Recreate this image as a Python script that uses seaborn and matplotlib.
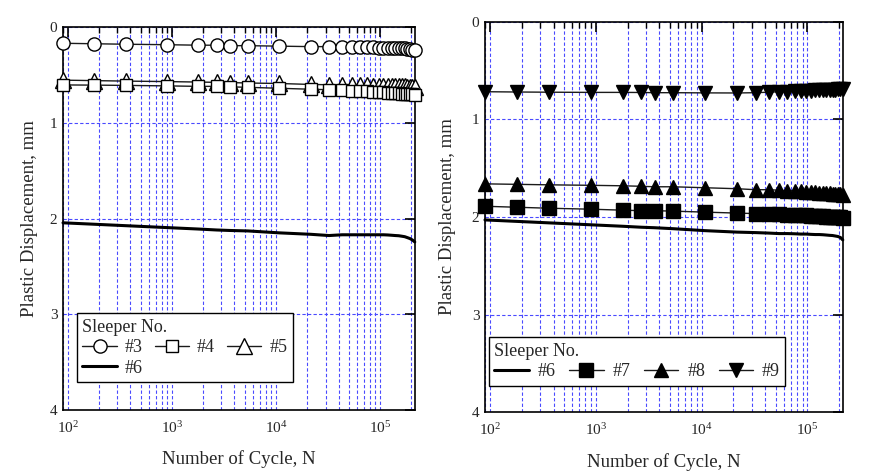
import numpy as np
import pandas as pd
import matplotlib
matplotlib.use("Agg")
import matplotlib.pyplot as plt
import seaborn as sns
from matplotlib.ticker import LogLocator, NullFormatter, FixedLocator

# ---------------- data ----------------
cycles = [90, 180, 360, 900, 1800, 2700, 3600, 5400, 10800, 21600, 32400, 43200,
          54000, 64800, 75600, 86400, 97200, 108000, 118800, 129600, 140400,
          151200, 162000, 172800, 183600, 194400, 205200, 216000]

s3 = [0.17, 0.175, 0.18, 0.185, 0.19, 0.19, 0.195, 0.195, 0.20, 0.205, 0.205, 0.21,
      0.21, 0.21, 0.212, 0.212, 0.215, 0.215, 0.215, 0.218, 0.218, 0.22, 0.22,
      0.222, 0.225, 0.23, 0.235, 0.245]
s4 = [0.605, 0.607, 0.61, 0.615, 0.62, 0.62, 0.625, 0.63, 0.64, 0.65, 0.655, 0.66,
      0.665, 0.67, 0.67, 0.675, 0.68, 0.68, 0.685, 0.69, 0.69, 0.69, 0.695, 0.695,
      0.70, 0.70, 0.70, 0.705]
s5 = [0.555, 0.56, 0.565, 0.57, 0.575, 0.578, 0.58, 0.585, 0.59, 0.60, 0.603, 0.605,
      0.607, 0.61, 0.61, 0.612, 0.613, 0.615, 0.615, 0.617, 0.618, 0.62, 0.62,
      0.62, 0.622, 0.623, 0.625, 0.627]
s6_left = [2.045, 2.06, 2.075, 2.095, 2.11, 2.12, 2.125, 2.13, 2.15, 2.165, 2.178,
           2.17, 2.17, 2.17, 2.17, 2.17, 2.17, 2.17, 2.172, 2.175, 2.178, 2.18,
           2.185, 2.19, 2.20, 2.21, 2.225, 2.245]

s6_right = [2.03, 2.045, 2.06, 2.08, 2.095, 2.105, 2.11, 2.12, 2.14, 2.155, 2.16,
            2.165, 2.17, 2.17, 2.172, 2.175, 2.175, 2.178, 2.18, 2.18, 2.182,
            2.185, 2.188, 2.19, 2.195, 2.20, 2.21, 2.235]
s7 = [1.89, 1.90, 1.91, 1.92, 1.93, 1.935, 1.935, 1.94, 1.95, 1.96, 1.965, 1.97,
      1.97, 1.975, 1.975, 1.98, 1.98, 1.985, 1.985, 1.99, 1.99, 1.995, 1.995, 2.0,
      2.0, 2.0, 2.005, 2.01]
s8 = [1.66, 1.665, 1.67, 1.675, 1.68, 1.685, 1.69, 1.69, 1.70, 1.71, 1.72, 1.72,
      1.725, 1.73, 1.73, 1.735, 1.74, 1.74, 1.745, 1.75, 1.75, 1.755, 1.755, 1.76,
      1.76, 1.765, 1.765, 1.77]
s9 = [0.715, 0.718, 0.72, 0.722, 0.722, 0.723, 0.725, 0.725, 0.727, 0.728, 0.725,
      0.72, 0.715, 0.713, 0.71, 0.708, 0.705, 0.703, 0.70, 0.70, 0.698, 0.697,
      0.695, 0.694, 0.693, 0.692, 0.69, 0.69]

yticks = [0, 1, 2, 3, 4]
xlabel = "Number of Cycle, N"
ylabel = "Plastic Displacement, mm"
legend_title = "Sleeper No."

# ---------------- style ----------------
sns.set_theme(style="white")
plt.rcParams["font.family"] = ["Liberation Serif", "DejaVu Serif"]
plt.rcParams["mathtext.fontset"] = "custom"
plt.rcParams["mathtext.rm"] = "Liberation Serif"
plt.rcParams["mathtext.it"] = "Liberation Serif:italic"
plt.rcParams["mathtext.bf"] = "Liberation Serif:bold"
plt.rcParams["axes.edgecolor"] = "black"

GRID = "#4a4aff"
LC = "#1a1a1a"

fig = plt.figure(figsize=(8.74, 4.73), dpi=100)
W, H = 874, 473


def add_ax(l, r, t, b):
    return fig.add_axes([l / W, 1 - b / H, (r - l) / W, (b - t) / H])


axL = add_ax(63, 415, 27, 410)
axR = add_ax(485, 843, 22, 412)


def style_axis(ax, ylab_x):
    ax.set_xscale("log")
    ax.set_xlim(90, 2.17e5)
    ax.set_ylim(4, 0)
    ax.yaxis.set_major_locator(FixedLocator(yticks))
    ax.xaxis.set_major_locator(LogLocator(base=10, numticks=10))
    ax.xaxis.set_minor_locator(LogLocator(base=10, subs=np.arange(2, 10), numticks=20))
    ax.xaxis.set_minor_formatter(NullFormatter())
    ax.set_axisbelow(True)
    ax.grid(True, which="major", axis="both", color=GRID, lw=0.8, ls=(0, (3, 2)))
    ax.grid(True, which="minor", axis="x", color=GRID, lw=0.8, ls=(0, (3, 2)))
    ax.tick_params(which="major", direction="in", top=True, right=True,
                   length=7, width=1.2, labelsize=11, pad=5, color="black")
    ax.tick_params(which="minor", direction="in", top=True, right=True,
                   length=4, width=1.0, color="black")
    ax.tick_params(axis="x", which="major", pad=7)
    ax.tick_params(axis="y", which="major", pad=4)
    for sp in ax.spines.values():
        sp.set_color("black")
        sp.set_linewidth(1.2)
    ax.set_xlabel(xlabel, fontsize=13.5)
    ax.set_ylabel(ylabel, fontsize=13.5)
    ax.xaxis.set_label_coords(0.5, -0.105)
    ax.yaxis.set_label_coords(ylab_x, 0.5)


# ---------------- left panel ----------------
common = dict(color=LC, lw=1.0, clip_on=False, zorder=3, markeredgewidth=1.0,
              markeredgecolor="black")
sns.lineplot(x=cycles, y=s3, ax=axL, marker="o", markersize=9.5,
             markerfacecolor="white", label="#3", **common)
sns.lineplot(x=cycles, y=s5, ax=axL, marker="^", markersize=11.5,
             markerfacecolor="white", label="#5", **common)
sns.lineplot(x=cycles, y=s4, ax=axL, marker="s", markersize=9,
             markerfacecolor="white", label="#4", **common)
sns.lineplot(x=cycles, y=s6_left, ax=axL, color="black", lw=2.2, label="#6",
             clip_on=False, zorder=3)
style_axis(axL, -0.072)

h, l = axL.get_legend_handles_labels()
hd = dict(zip(l, h))
order = ["#3", "#6", "#4", "#5"]
legL = axL.legend([hd[k] for k in order], order, title=legend_title, ncol=3,
                  loc="upper left", bbox_to_anchor=(0.04, 0.253),
                  borderaxespad=0, fontsize=13, title_fontsize=13,
                  alignment="left", frameon=True, fancybox=False, framealpha=1,
                  edgecolor="black", handlelength=1.9, handletextpad=0.45,
                  columnspacing=0.65, labelspacing=0.2, borderpad=0.3,
                  numpoints=1)
legL.get_frame().set_linewidth(1.0)

# ---------------- right panel ----------------
sns.lineplot(x=cycles, y=s6_right, ax=axR, color="black", lw=2.2, label="#6",
             clip_on=False, zorder=3)
sns.lineplot(x=cycles, y=s7, ax=axR, marker="s", markersize=9.5,
             markerfacecolor="black", label="#7", **common)
sns.lineplot(x=cycles, y=s8, ax=axR, marker="^", markersize=10.5,
             markerfacecolor="black", label="#8", **common)
sns.lineplot(x=cycles, y=s9, ax=axR, marker="v", markersize=10.5,
             markerfacecolor="black", label="#9", **common)
style_axis(axR, -0.082)

h, l = axR.get_legend_handles_labels()
hd = dict(zip(l, h))
order = ["#6", "#7", "#8", "#9"]
legR = axR.legend([hd[k] for k in order], order, title=legend_title, ncol=4,
                  loc="upper left", bbox_to_anchor=(0.011, 0.192),
                  borderaxespad=0, fontsize=13, title_fontsize=13,
                  alignment="left", frameon=True, fancybox=False, framealpha=1,
                  edgecolor="black", handlelength=1.9, handletextpad=0.5,
                  columnspacing=0.75, labelspacing=0.2, borderpad=0.3,
                  numpoints=1)
legR.get_frame().set_linewidth(1.0)

fig.savefig("out.png", dpi=100, facecolor="white")
